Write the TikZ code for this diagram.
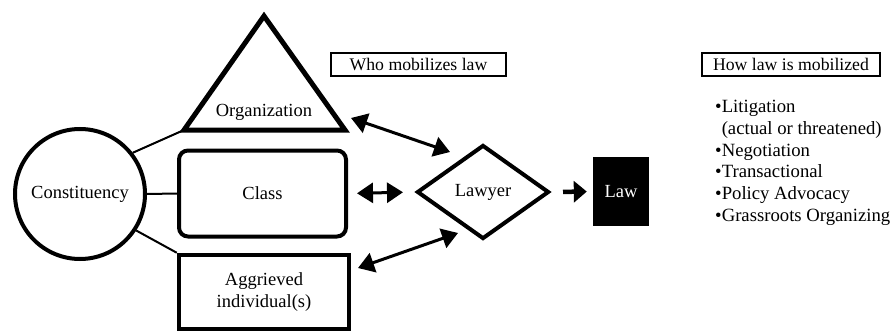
\documentclass[tikz,border=0pt]{standalone}
\usepackage{fontspec}
\setmainfont{Liberation Serif}
\usetikzlibrary{arrows.meta,shapes.geometric}
\tikzset{
  lbl/.style={font=\fontsize{18.5}{21.5}\selectfont, align=center},
  thick4/.style={line width=4pt},
  link/.style={line width=2pt},
  dbl/.style={line width=3pt, {Triangle[length=16pt,width=20pt]}-{Triangle[length=16pt,width=20pt]}},
  sgl/.style={line width=4.5pt, -{Triangle[length=13pt,width=21pt]}},
  hdr/.style={draw, line width=2pt, minimum height=23pt, inner sep=0pt, font=\fontsize{17.7}{21}\selectfont},
  item/.style={anchor=base west, inner sep=0pt, font=\fontsize{18.7}{21.6}\selectfont}
}
\begin{document}
\begin{tikzpicture}[x=1pt,y=-1pt]
\useasboundingbox (0,0) rectangle (896,334);
% constituency
\node[draw, circle, thick4, minimum size=130pt, inner sep=0pt, lbl] (con) at (80,194) {Constituency};
% organization triangle
\coordinate (orgT) at (264,16);
\coordinate (orgBL) at (184,130);
\coordinate (orgBR) at (345,130);
\draw[line width=5pt, line join=miter] (orgT) -- (orgBR) -- (orgBL) -- cycle;
\node[lbl] (org) at (264,112) {Organization};
% class
\node[draw, thick4, rounded corners=9pt, minimum width=167pt, minimum height=86pt, lbl] (cls) at (262.5,193.5) {Class};
% aggrieved
\node[draw, line width=4.5pt, minimum width=170pt, minimum height=74pt, lbl] (agg) at (264,292) {Aggrieved\\individual(s)};
% lawyer
\node[draw, diamond, thick4, line join=miter, minimum width=132pt, minimum height=94pt, inner sep=0pt, lbl] (lawyer) at (483,192) {Lawyer};
% law
\node[fill=black, minimum width=56pt, minimum height=69pt, inner sep=0pt, lbl, text=white] (law) at (621,191.5) {Law};
% connectors to constituency
\draw[link] (con.38) -- (orgBL);
\draw[link] (con.east) -- (cls.west);
\draw[link] (con.-33) -- (agg.north west);
% arrows
\coordinate (a1) at (351,118);
\coordinate (a2) at (450,152);
\coordinate (b1) at (358,268);
\coordinate (b2) at (458,233);
\draw[dbl] (a1) -- (a2);
\draw[dbl] (b1) -- (b2);
\draw[dbl, shorten <=9pt, shorten >=12pt] (cls.east) -- (lawyer.west);
\draw[sgl, shorten <=12pt, shorten >=6pt] (lawyer.east) -- (law.west);
% headers
\node[hdr, minimum width=175pt] (who) at (418.5,64.5) {Who mobilizes law};
\node[hdr, minimum width=178pt] (how) at (791,64.5) {How law is mobilized};
% list
\node[item] (i1) at (715,113) {•Litigation};
\node[item] (i1b) at (715,134.6) {\phantom{•}(actual or threatened)};
\node[item] (i2) at (715,156.2) {•Negotiation};
\node[item] (i3) at (715,177.8) {•Transactional};
\node[item] (i4) at (715,199.4) {•Policy Advocacy};
\node[item] (i5) at (715,221) {•Grassroots Organizing};
\end{tikzpicture}
\end{document}
